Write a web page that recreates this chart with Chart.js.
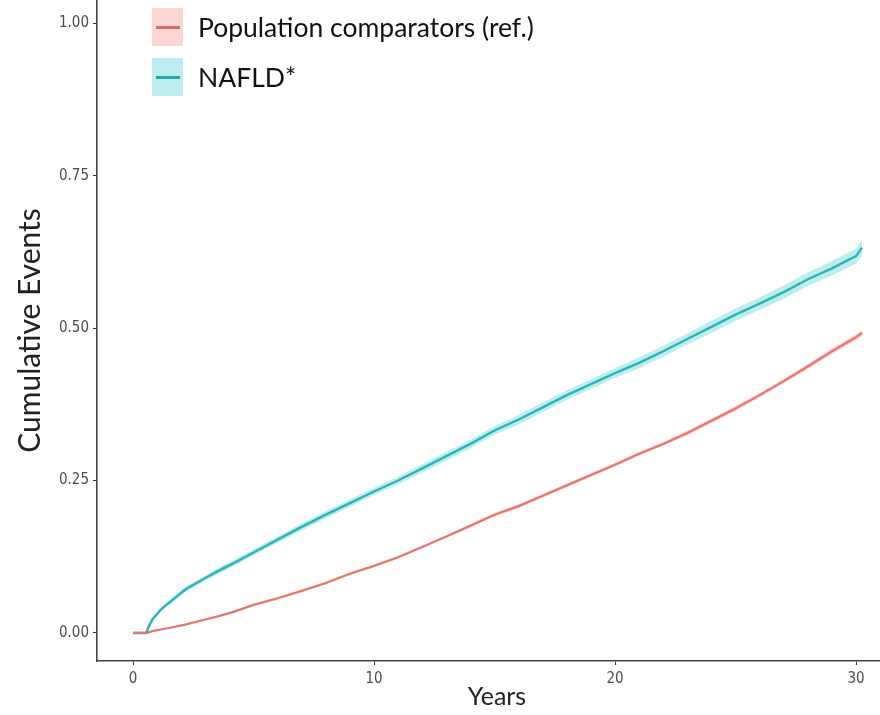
<!DOCTYPE html>
<html>
<head>
<meta charset="utf-8">
<script src="https://cdn.jsdelivr.net/npm/chart.js@4"></script>
<style>
  body { margin: 0; background: #fff; }
  #wrap { position: relative; width: 880px; height: 715px; overflow: hidden; }
  #legend { position: absolute; left: 152px; top: 8px; font-family: Lato, "Open Sans", sans-serif; font-size: 26.5px; color: #111; }
  .leg-item { display: flex; align-items: center; height: 38px; margin-bottom: 12px; }
  .swatch { position: relative; width: 31px; height: 38px; margin-right: 15px; }
  .swatch span { position: absolute; left: 4px; right: 3px; top: 18px; height: 3px; }
</style>
</head>
<body>
<div id="wrap">
  <!-- le panneau déborde à droite comme dans l'image d'origine (recadrée) -->
  <canvas id="km" width="897" height="715"></canvas>
  <div id="legend"></div>
</div>
<script>
// temps de suivi (années)
const years = [0, 0.55, 0.65, 0.8, 1.2, 1.6, 2.2, 3, 3.6, 4.2, 5, 6, 7, 8, 9, 10, 11, 12, 13, 14, 15, 16, 17, 18, 19, 20, 21, 22, 23, 24, 25, 26, 27, 28, 29, 30, 30.25];
// NAFLD* : incidence cumulée + demi-largeur de l'IC
const nafld = [0, 0, 0.01, 0.022, 0.04, 0.053, 0.072, 0.09, 0.103, 0.115, 0.132, 0.153, 0.174, 0.194, 0.213, 0.232, 0.25, 0.27, 0.29, 0.31, 0.332, 0.35, 0.37, 0.39, 0.408, 0.426, 0.443, 0.462, 0.482, 0.502, 0.522, 0.54, 0.559, 0.58, 0.598, 0.618, 0.632];
const nafldCI = [0, 0, 0.002, 0.003, 0.003, 0.004, 0.004, 0.004, 0.005, 0.005, 0.005, 0.005, 0.006, 0.006, 0.006, 0.006, 0.006, 0.007, 0.007, 0.007, 0.007, 0.008, 0.008, 0.008, 0.008, 0.008, 0.009, 0.009, 0.009, 0.01, 0.01, 0.01, 0.011, 0.011, 0.012, 0.012, 0.013];
// comparateurs (réf.)
const pop = [0, 0, 0.001, 0.003, 0.006, 0.009, 0.014, 0.022, 0.028, 0.035, 0.046, 0.057, 0.069, 0.082, 0.097, 0.11, 0.124, 0.141, 0.158, 0.176, 0.194, 0.208, 0.225, 0.242, 0.259, 0.276, 0.294, 0.31, 0.328, 0.348, 0.368, 0.39, 0.413, 0.437, 0.462, 0.485, 0.492];
const popCI = [0, 0, 0, 0.001, 0.001, 0.001, 0.001, 0.001, 0.001, 0.001, 0.002, 0.002, 0.002, 0.002, 0.002, 0.002, 0.002, 0.002, 0.002, 0.003, 0.003, 0.003, 0.003, 0.003, 0.003, 0.003, 0.003, 0.003, 0.004, 0.004, 0.004, 0.004, 0.004, 0.004, 0.005, 0.005, 0.005];

const seriesNames = ["Population comparators (ref.)", "NAFLD*"];
const xTicks = [0, 10, 20, 30];
const yTicks = [0, 0.25, 0.5, 0.75, 1];
const xTitle = "Years";
const yTitle = "Cumulative Events";

const RED = "#e2766e";
const RED_BAND = "rgba(248, 118, 109, 0.3)";
const CYAN = "#36b1b8";
const CYAN_BAND = "rgba(20, 190, 196, 0.28)";

const pts = (vals, off, sign) => years.map((x, i) => ({ x: x, y: vals[i] + (off ? sign * off[i] : 0) }));

function band(vals, ci, color) {
  return [
    { data: pts(vals, ci, 1), borderWidth: 0, pointRadius: 0, backgroundColor: color, fill: "+1", tension: 0 },
    { data: pts(vals, ci, -1), borderWidth: 0, pointRadius: 0, backgroundColor: color, fill: false, tension: 0 },
  ];
}

// enlève la marge que Chart.js réserve pour les libellés aux extrémités
function noEdgePadding(s) {
  s.paddingTop = 0; s.paddingBottom = 0; s.paddingLeft = 0; s.paddingRight = 0;
}

const tickFont = { family: "'Liberation Sans Narrow', 'Arial Narrow', 'DejaVu Sans Condensed', sans-serif", size: 15 };

new Chart(document.getElementById("km").getContext("2d"), {
  type: "line",
  data: {
    datasets: [
      ...band(pop, popCI, RED_BAND),
      ...band(nafld, nafldCI, CYAN_BAND),
      { label: seriesNames[0], data: pts(pop), borderColor: RED, borderWidth: 2.2, pointRadius: 0, fill: false, tension: 0 },
      { label: seriesNames[1], data: pts(nafld), borderColor: CYAN, borderWidth: 2.4, pointRadius: 0, fill: false, tension: 0 },
    ],
  },
  options: {
    responsive: false,
    devicePixelRatio: 1,
    animation: false,
    layout: { padding: 0 },
    plugins: { legend: { display: false }, tooltip: { enabled: false } },
    scales: {
      x: {
        type: "linear",
        min: -1.494,
        max: 31.7,
        afterBuildTicks: (s) => { s.ticks = xTicks.map((v) => ({ value: v })); },
        afterFit: (s) => { s.height = 54; noEdgePadding(s); },
        grid: { drawOnChartArea: false, drawTicks: true, tickLength: 4, color: "#333", lineWidth: 1 },
        border: { display: true, color: "#444", width: 1.6 },
        ticks: { color: "#4d4d4d", font: tickFont, padding: 5, maxRotation: 0 },
        title: { display: true, text: xTitle, color: "#222", font: { family: "Lato, 'Open Sans', sans-serif", size: 25 }, padding: { top: 0, bottom: 3 } },
      },
      y: {
        min: -0.046,
        max: 1.038,
        afterBuildTicks: (s) => { s.ticks = yTicks.map((v) => ({ value: v })); },
        afterFit: (s) => { s.width = 97; noEdgePadding(s); },
        grid: { drawOnChartArea: false, drawTicks: true, tickLength: 4, color: "#333", lineWidth: 1 },
        border: { display: true, color: "#444", width: 1.6 },
        ticks: { color: "#4d4d4d", font: tickFont, padding: 4, callback: (v) => v.toFixed(2) },
        title: { display: true, text: yTitle, color: "#222", font: { family: "Lato, 'Open Sans', sans-serif", size: 30 }, padding: { top: 12, bottom: 0 } },
      },
    },
  },
});

// légende HTML (boîte IC + trait)
const legend = document.getElementById("legend");
[[RED_BAND, "#c9706b"], [CYAN_BAND, "#2aa5ac"]].forEach(([bg, line], i) => {
  const item = document.createElement("div");
  item.className = "leg-item";
  item.innerHTML = `<div class="swatch" style="background:${bg}"><span style="background:${line}"></span></div><div>${seriesNames[i]}</div>`;
  legend.appendChild(item);
});
</script>
</body>
</html>
